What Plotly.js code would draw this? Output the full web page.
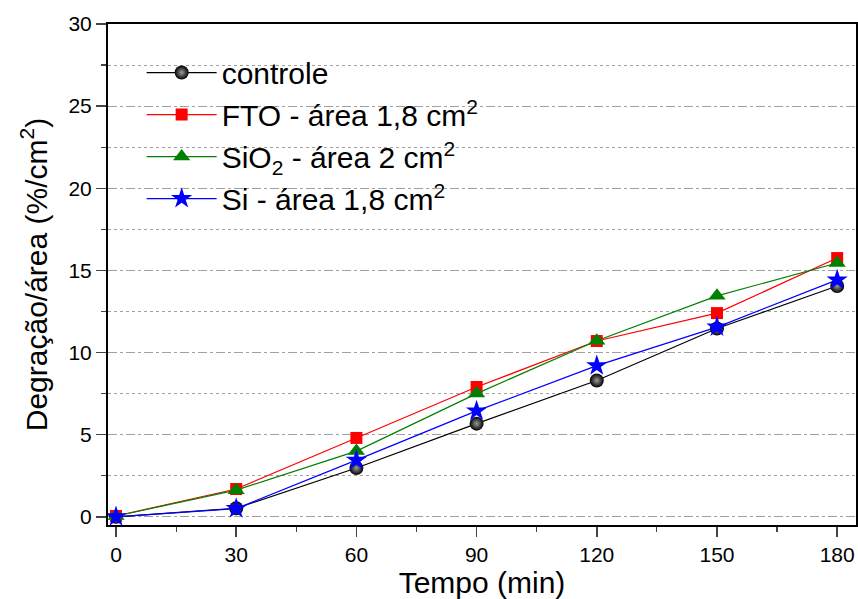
<!DOCTYPE html>
<html>
<head>
<meta charset="utf-8">
<script src="https://cdn.plot.ly/plotly-3.0.1.min.js"></script>
<style>html,body{margin:0;padding:0;background:#fff;}#chart{width:858px;height:599px;}</style>
</head>
<body>
<div id="chart"></div>
<script>
const tempo = [0, 30, 60, 90, 120, 150, 180];
const controle = [0.0, 0.52, 2.97, 5.67, 8.3, 11.46, 14.05];
const fto = [0.05, 1.69, 4.8, 7.9, 10.7, 12.4, 15.75];
const sio2 = [0.05, 1.62, 4.0, 7.5, 10.72, 13.45, 15.45];
const si = [0.0, 0.5, 3.45, 6.45, 9.2, 11.55, 14.42];
const names = ['controle', 'FTO - área 1,8 cm<sup>2</sup>', 'SiO<sub>2</sub> - área 2 cm<sup>2</sup>', 'Si - área 1,8 cm<sup>2</sup>'];

const traces = [
  {x: tempo, y: controle, name: names[0], legendgroup: 'a', mode: 'lines+markers',
   line: {color: '#000000', width: 1.2},
   marker: {symbol: 'circle', size: 14, color: '#000000', gradient: {type: 'radial', color: '#9a9a9a'}}},
  {x: tempo, y: fto, name: names[1], legendgroup: 'b', mode: 'lines+markers',
   line: {color: '#ff0000', width: 1.2},
   marker: {symbol: 'square', size: 12, color: '#ff0000'}},
  {x: tempo, y: sio2, name: names[2], legendgroup: 'c', mode: 'lines+markers',
   line: {color: '#008000', width: 1.2},
   marker: {symbol: 'triangle-up', size: 15, color: '#008000'}},
  {x: tempo, y: si, name: names[3], legendgroup: 'd', mode: 'lines+markers',
   line: {color: '#0000ff', width: 1.2},
   marker: {symbol: 'star', size: 16, color: '#0000ff'}}
];

const font = 'Liberation Sans, Arial, sans-serif';
const layout = {
  width: 858, height: 599,
  margin: {l: 108, r: 2, t: 24, b: 74},
  paper_bgcolor: '#ffffff', plot_bgcolor: '#ffffff',
  font: {family: font, color: '#000000'},
  showlegend: true,
  legend: {x: 0.045, y: 0.955, xanchor: 'left', yanchor: 'top', bgcolor: 'rgba(0,0,0,0)',
           font: {family: font, size: 30, color: '#000'}, tracegroupgap: 0, itemwidth: 70},
  xaxis: {range: [-2, 184.7], tickvals: [0, 30, 60, 90, 120, 150, 180], ticks: 'outside', ticklen: 10, tickwidth: 1.5,
          minor: {dtick: 15, tick0: 0, ticks: 'outside', ticklen: 5, tickwidth: 1.2, showgrid: false},
          showline: true, linecolor: '#000', linewidth: 2, mirror: true, showgrid: false, zeroline: false,
          tickfont: {size: 21, family: font},
          title: {text: 'Tempo (min)', font: {size: 30, family: font}, standoff: 0}},
  yaxis: {range: [-0.5, 30], tickvals: [0, 5, 10, 15, 20, 25, 30], ticks: 'outside', ticklen: 10, tickwidth: 1.5,
          minor: {dtick: 2.5, tick0: 0, ticks: 'outside', ticklen: 5, tickwidth: 1.2, showgrid: true,
                  gridcolor: '#a0a0a0', griddash: 'dot', gridwidth: 1},
          showgrid: true, gridcolor: '#a0a0a0', griddash: 'dash', gridwidth: 1,
          showline: true, linecolor: '#000', linewidth: 2, mirror: true, zeroline: false,
          tickfont: {size: 21, family: font},
          title: {text: 'Degração/área (%/cm<sup>2</sup>)', font: {size: 30, family: font}, standoff: 12}},
  xaxis2: {overlaying: 'x', side: 'top', range: [-2, 184.7], dtick: 15, tick0: 0, ticks: 'inside', ticklen: 4,
           tickwidth: 1, showticklabels: false, showgrid: false, zeroline: false, showline: false},
  yaxis2: {overlaying: 'y', side: 'right', range: [-0.5, 30], dtick: 2.5, tick0: 0, ticks: 'inside', ticklen: 4,
           tickwidth: 1, showticklabels: false, showgrid: false, zeroline: false, showline: false}
};

Plotly.newPlot('chart', traces, layout, {displayModeBar: false, staticPlot: true});
</script>
</body>
</html>
